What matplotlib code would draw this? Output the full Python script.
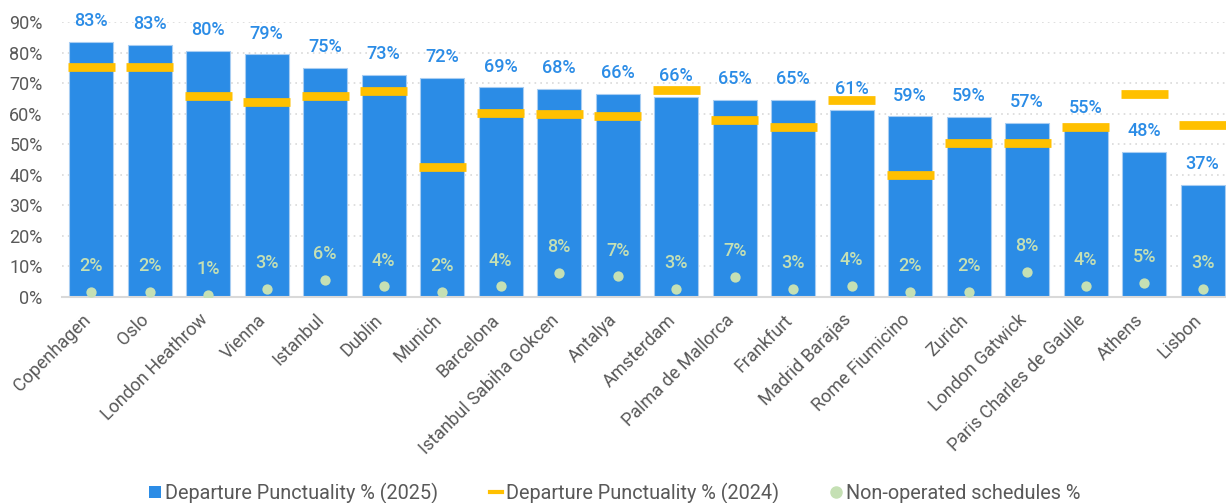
import matplotlib

matplotlib.use("Agg")
import matplotlib.pyplot as plt
from matplotlib.lines import Line2D
from matplotlib.patches import Patch
import matplotlib.transforms as mtransforms
import numpy as np

airports = [
    "Copenhagen", "Oslo", "London Heathrow", "Vienna", "Istanbul", "Dublin",
    "Munich", "Barcelona", "Istanbul Sabiha Gokcen", "Antalya", "Amsterdam",
    "Palma de Mallorca", "Frankfurt", "Madrid Barajas", "Rome Fiumicino",
    "Zurich", "London Gatwick", "Paris Charles de Gaulle", "Athens", "Lisbon",
]
punct_2025 = [83.4, 82.6, 80.4, 79.4, 75.0, 72.6, 71.6, 68.6, 68.0, 66.4,
              65.6, 64.6, 64.6, 61.2, 59.1, 59.0, 57.1, 55.0, 47.6, 36.6]
punct_2024 = [75.3, 75.3, 65.8, 63.8, 65.8, 67.3, 42.5, 60.3, 59.9, 59.3,
              67.8, 57.9, 55.8, 64.4, 40.0, 50.4, 50.4, 55.8, 66.3, 56.3]
non_operated = [1.6, 1.6, 0.8, 2.6, 5.7, 3.5, 1.6, 3.5, 7.8, 6.8,
                2.7, 6.6, 2.7, 3.7, 1.6, 1.6, 8.2, 3.7, 4.6, 2.6]
legend_labels = ["Departure Punctuality % (2025)", "Departure Punctuality % (2024)",
                 "Non-operated schedules %"]

BLUE = "#2b8ce6"
GOLD = "#ffc000"
GREEN = "#c5e0b4"
GREY = "#595959"

plt.rcParams["font.family"] = ["Roboto", "DejaVu Sans"]

W, H = 1226, 503
fig = plt.figure(figsize=(W / 100, H / 100), dpi=100)
ax = fig.add_axes([62 / W, 1 - 297 / H, (W - 62) / W, (297 - 22) / H])

x = np.arange(len(airports))
ax.bar(x, punct_2025, width=0.75, color=BLUE, edgecolor="#a8cdf2", linewidth=0.8, zorder=2)
ax.hlines(punct_2024, x - 0.4, x + 0.4, colors=GOLD, linewidth=6.3, zorder=3)
ax.scatter(x, non_operated, s=55, color=GREEN, zorder=4, linewidths=0)

for xi, v in zip(x, punct_2025):
    ax.annotate(f"{v:.0f}%", (xi, v), xytext=(0, 15), textcoords="offset points",
                ha="center", va="center", color=BLUE, fontsize=13, fontweight="medium", zorder=5)
for xi, v in zip(x, non_operated):
    ax.annotate(f"{v:.0f}%", (xi, v), xytext=(0, 18.5), textcoords="offset points",
                ha="center", va="center", color=GREEN, fontsize=13, fontweight="medium", zorder=5)

ax.set_xlim(-0.5, 19.4)
ax.set_ylim(0, 90)
ax.set_yticks(range(0, 91, 10))
ax.set_yticklabels([f"{t}%" for t in range(0, 91, 10)])
ax.yaxis.grid(True, linestyle=(0, (1, 2.5)), color="#d9d9d9", linewidth=1.2, zorder=0)
ax.set_axisbelow(True)
ax.tick_params(axis="y", length=0, pad=14, labelsize=13, labelcolor=GREY)
ax.tick_params(axis="x", length=0, pad=10, labelsize=13, labelcolor=GREY)
ax.set_xticks(x)
ax.set_xticklabels(airports, rotation=45, ha="right", va="top")
shift = mtransforms.ScaledTranslation(3 / 100, 0, fig.dpi_scale_trans)
for lab in ax.get_xticklabels():
    lab.set_transform(lab.get_transform() + shift)
for side in ["top", "right", "left"]:
    ax.spines[side].set_visible(False)
ax.spines["bottom"].set_color("#d9d9d9")
ax.spines["bottom"].set_linewidth(1.5)

handles = [
    Patch(facecolor=BLUE, edgecolor="none"),
    Line2D([], [], color=GOLD, linewidth=3),
    Line2D([], [], marker="o", linestyle="none", color=GREEN, markersize=8),
]
leg = fig.legend(handles, legend_labels, loc="center left", bbox_to_anchor=(149 / W, 1 - 493 / H),
                 ncol=3, frameon=False, handlelength=0.6, handleheight=0.6, handletextpad=0.2,
                 columnspacing=2.6, borderpad=0, borderaxespad=0, prop={"size": 14.3})
for t in leg.get_texts():
    t.set_color(GREY)

fig.savefig("out.png", dpi=100)
